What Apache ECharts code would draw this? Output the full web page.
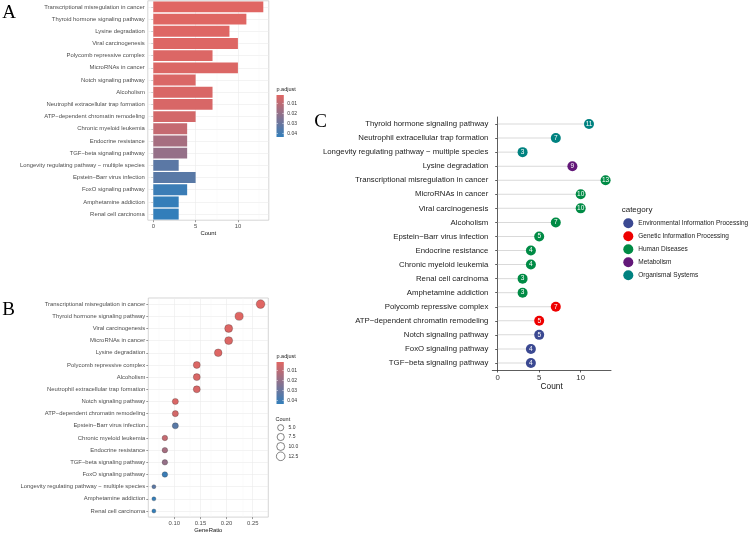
<!DOCTYPE html>
<html>
<head>
<meta charset="utf-8">
<script src="https://cdn.jsdelivr.net/npm/echarts@6/dist/echarts.min.js"></script>
<style>
html,body{margin:0;padding:0;background:#fff}
#main{width:750px;height:534px}
</style>
</head>
<body>
<div id="main"></div>
<script>
// ---- panel A : barplot ----
const termsA = ['Transcriptional misregulation in cancer','Thyroid hormone signaling pathway','Lysine degradation','Viral carcinogenesis',
  'Polycomb repressive complex','MicroRNAs in cancer','Notch signaling pathway','Alcoholism','Neutrophil extracellular trap formation',
  'ATP\u2212dependent chromatin remodeling','Chronic myeloid leukemia','Endocrine resistance','TGF\u2212beta signaling pathway',
  'Longevity regulating pathway \u2212 multiple species','Epstein\u2212Barr virus infection','FoxO signaling pathway','Amphetamine addiction','Renal cell carcinoma']
const countA = [13,11,9,10,7,10,5,7,7,5,4,4,4,3,5,4,3,3]
const padjA = [0.0017,0.0019,0.0021,0.0023,0.0026,0.0028,0.0031,0.0033,0.0035,0.0048,0.0082,0.0155,0.0196,0.0335,0.0340,0.0413,0.0430,0.0434]

// ---- panel B : dotplot ----
const termsB = ['Transcriptional misregulation in cancer','Thyroid hormone signaling pathway','Viral carcinogenesis','MicroRNAs in cancer',
  'Lysine degradation','Polycomb repressive complex','Alcoholism','Neutrophil extracellular trap formation','Notch signaling pathway',
  'ATP\u2212dependent chromatin remodeling','Epstein\u2212Barr virus infection','Chronic myeloid leukemia','Endocrine resistance',
  'TGF\u2212beta signaling pathway','FoxO signaling pathway','Longevity regulating pathway \u2212 multiple species','Amphetamine addiction','Renal cell carcinoma']
const ratioB = [0.265,0.224,0.204,0.204,0.184,0.143,0.143,0.143,0.102,0.102,0.102,0.082,0.082,0.082,0.082,0.061,0.061,0.061]
const countB = [13,11,10,10,9,7,7,7,5,5,5,4,4,4,4,3,3,3]
const padjB = [0.0017,0.0019,0.0023,0.0028,0.0021,0.0026,0.0033,0.0035,0.0031,0.0048,0.0340,0.0082,0.0155,0.0196,0.0413,0.0335,0.0430,0.0434]

// ---- panel C : lollipop by KEGG category ----
const termsC = ['Thyroid hormone signaling pathway','Neutrophil extracellular trap formation','Longevity regulating pathway \u2212 multiple species',
  'Lysine degradation','Transcriptional misregulation in cancer','MicroRNAs in cancer','Viral carcinogenesis','Alcoholism',
  'Epstein\u2212Barr virus infection','Endocrine resistance','Chronic myeloid leukemia','Renal cell carcinoma','Amphetamine addiction',
  'Polycomb repressive complex','ATP\u2212dependent chromatin remodeling','Notch signaling pathway','FoxO signaling pathway','TGF\u2212beta signaling pathway']
const countC = [11,7,3,9,13,10,10,7,5,4,4,3,3,7,5,5,4,4]
const catC = ['Organismal Systems','Organismal Systems','Organismal Systems','Metabolism',
  'Human Diseases','Human Diseases','Human Diseases','Human Diseases','Human Diseases','Human Diseases','Human Diseases','Human Diseases','Human Diseases',
  'Genetic Information Processing','Genetic Information Processing',
  'Environmental Information Processing','Environmental Information Processing','Environmental Information Processing']
const categories = ['Environmental Information Processing','Genetic Information Processing','Human Diseases','Metabolism','Organismal Systems']
const catColors = ['#3B4992','#EE0000','#008B45','#631879','#008280']

// legend ticks
const padjTicks = [0.01,0.02,0.03,0.04]
const sizeTicks = [5.0,7.5,10.0,12.5]

const FONT = "'Liberation Sans', Arial, sans-serif"
const padjColors = ['#e06663','#327eba']
const sizeOf = c => 0.94 * (3 + 5 * Math.sqrt(Math.max(c - 3, 0) / 10)) + 1.2

function gridLines(n, major, minor) {
  const d = []
  for (let i = 0; i < n; i++) d.push({yAxis: i})
  major.forEach(v => d.push({xAxis: v}))
  minor.forEach(v => d.push({xAxis: v, lineStyle: {color: '#f3f3f3', width: 0.4}}))
  return d
}
// panel background grid (drawn under the marks)
function lineBg(gi, n, major, minor) {
  return {
    type: 'line', xAxisIndex: gi, yAxisIndex: gi, data: [], z: 1, silent: true,
    markLine: {silent: true, z: 1, symbol: ['none','none'], label: {show: false}, animation: false,
      lineStyle: {color: '#ebebeb', width: 0.6, type: 'solid'}, data: gridLines(n, major, minor)}
  }
}

const myChart = echarts.init(document.getElementById('main'))

const catSeries = categories.map((cat, k) => ({
  type: 'scatter', name: cat, xAxisIndex: 2, yAxisIndex: 2, z: 5,
  symbolSize: 10,
  itemStyle: {color: catColors[k], opacity: 1},
  label: {show: true, position: 'inside', formatter: p => p.value[0], color: '#fff', fontSize: 6.5, fontFamily: FONT},
  data: termsC.map((t, i) => catC[i] === cat ? [countC[i], i] : null).filter(d => d)
}))

// colour bar + size legend drawn by hand (ggplot style)
const graphics = []
const letters = [['A', 9, 13], ['B', 8.5, 310], ['C', 320.7, 121.7]]
letters.forEach(l => graphics.push({type: 'text', x: l[1], y: l[2],
  style: {text: l[0], font: "19px 'Liberation Serif', 'Times New Roman', serif", fill: '#000', textAlign: 'center', textVerticalAlign: 'middle'}}))

function colorBar(top) {
  graphics.push({type: 'text', x: 276.5, y: top - 6, style: {text: 'p.adjust', font: '5.5px ' + FONT, fill: '#222', textVerticalAlign: 'middle'}})
  graphics.push({type: 'rect', shape: {x: 276.5, y: top, width: 7.3, height: 42},
    style: {fill: new echarts.graphic.LinearGradient(0, 0, 0, 1, [{offset: 0, color: padjColors[0]}, {offset: 1, color: padjColors[1]}])}})
  padjTicks.forEach((p, i) => {
    const y = top + 8.5 + i * 10
    graphics.push({type: 'line', shape: {x1: 276.5, y1: y, x2: 278, y2: y}, style: {stroke: '#fff', lineWidth: 0.5}})
    graphics.push({type: 'line', shape: {x1: 282.3, y1: y, x2: 283.8, y2: y}, style: {stroke: '#fff', lineWidth: 0.5}})
    graphics.push({type: 'text', x: 287.3, y: y, style: {text: p.toFixed(2), font: '5px ' + FONT, fill: '#333', textVerticalAlign: 'middle'}})
  })
}
colorBar(95)
colorBar(362)

graphics.push({type: 'text', x: 275.5, y: 419, style: {text: 'Count', font: '5.5px ' + FONT, fill: '#222', textVerticalAlign: 'middle'}})
sizeTicks.forEach((s, i) => {
  const y = [427.7, 437, 446.5, 456.3][i]
  graphics.push({type: 'circle', shape: {cx: 280.7, cy: y, r: sizeOf(s) / 2}, style: {fill: '#fff', stroke: '#333', lineWidth: 0.6}})
  graphics.push({type: 'text', x: 288.5, y: y, style: {text: s.toFixed(1), font: '5px ' + FONT, fill: '#333', textVerticalAlign: 'middle'}})
})
graphics.push({type: 'text', x: 621.7, y: 210, style: {text: 'category', font: '8px ' + FONT, fill: '#222', textVerticalAlign: 'middle'}})

const smallLabel = {fontSize: 5.9, color: '#4d4d4d', fontFamily: FONT}
const tickSmall = {show: true, length: 2, alignWithLabel: true, lineStyle: {color: '#333', width: 0.5}}

myChart.setOption({
  animation: false,
  textStyle: {fontFamily: FONT},
  grid: [
    {left: 147.8, top: 0.8, width: 121, height: 219.4, show: true, borderColor: '#c4c4c4', borderWidth: 0.7},
    {left: 148.3, top: 298, width: 120, height: 220.3, show: true, borderColor: '#c4c4c4', borderWidth: 0.7},
    {left: 492.3, top: 117, width: 118.7, height: 253}
  ],
  xAxis: [
    {gridIndex: 0, type: 'value', min: -0.65, max: 13.65, axisLine: {show: false}, splitLine: {show: false},
      axisTick: {show: true, length: 2, customValues: [0,5,10], lineStyle: {color: '#333', width: 0.5}},
      axisLabel: Object.assign({customValues: [0,5,10], margin: 3.5}, smallLabel),
      name: 'Count', nameLocation: 'middle', nameGap: 9.5, nameTextStyle: {fontSize: 5.9, color: '#111'}},
    {gridIndex: 1, type: 'value', min: 0.0503, max: 0.2798, axisLine: {show: false}, splitLine: {show: false},
      axisTick: {show: true, length: 2, customValues: [0.10,0.15,0.20,0.25], lineStyle: {color: '#333', width: 0.5}},
      axisLabel: Object.assign({customValues: [0.10,0.15,0.20,0.25], margin: 3, formatter: v => v.toFixed(2)}, smallLabel),
      name: 'GeneRatio', nameLocation: 'middle', nameGap: 8.5, nameTextStyle: {fontSize: 5.9, color: '#111'}},
    {gridIndex: 2, type: 'value', min: -0.65, max: 13.65, splitLine: {show: false},
      axisLine: {show: true, lineStyle: {color: '#333', width: 0.8}},
      axisTick: {show: true, length: 2.5, customValues: [0,5,10], lineStyle: {color: '#333', width: 0.8}},
      axisLabel: {customValues: [0,5,10], margin: 4, fontSize: 7.8, color: '#333'},
      name: 'Count', nameLocation: 'middle', nameGap: 13, nameTextStyle: {fontSize: 8.3, color: '#111'}}
  ],
  yAxis: [
    {gridIndex: 0, type: 'category', data: termsA, inverse: true, axisLine: {show: false}, splitLine: {show: false},
      axisTick: tickSmall, axisLabel: Object.assign({margin: 3, interval: 0}, smallLabel)},
    {gridIndex: 1, type: 'category', data: termsB, inverse: true, axisLine: {show: false}, splitLine: {show: false},
      axisTick: tickSmall, axisLabel: Object.assign({margin: 3, interval: 0}, smallLabel)},
    {gridIndex: 2, type: 'category', data: termsC, inverse: true, splitLine: {show: false},
      axisLine: {show: true, lineStyle: {color: '#333', width: 0.8}},
      axisTick: {show: true, length: 2.5, alignWithLabel: true, lineStyle: {color: '#333', width: 0.8}},
      axisLabel: {margin: 4, interval: 0, fontSize: 7.8, color: '#222'}}
  ],
  visualMap: [{type: 'continuous', show: false, min: 0.0017, max: 0.0434, dimension: 2, seriesIndex: [1, 3],
    inRange: {color: padjColors}}],
  legend: {data: categories, orient: 'vertical', left: 623.3, top: 218.3, padding: 0, itemWidth: 10, itemHeight: 10, itemGap: 3,
    icon: 'circle', selectedMode: false, textStyle: {fontSize: 6.5, color: '#222', fontFamily: FONT}},
  series: [
    lineBg(0, termsA.length, [0,5,10], [2.5,7.5,12.5]),
    {type: 'bar', xAxisIndex: 0, yAxisIndex: 0, z: 3, barWidth: 10.9,
      encode: {x: 0, y: 1},
      data: countA.map((c, i) => [c, i, padjA[i]])},
    lineBg(1, termsB.length, [0.10,0.15,0.20,0.25], [0.075,0.125,0.175,0.225,0.275]),
    {type: 'scatter', xAxisIndex: 1, yAxisIndex: 1, z: 3,
      encode: {x: 0, y: 1},
      symbolSize: v => sizeOf(v[3]),
      itemStyle: {opacity: 1, borderColor: 'rgba(40,40,40,0.55)', borderWidth: 0.5},
      data: ratioB.map((r, i) => [r, i, padjB[i], countB[i]])},
    {type: 'bar', xAxisIndex: 2, yAxisIndex: 2, z: 2, barWidth: 0.8, silent: true,
      itemStyle: {color: '#d9d9d9'}, data: countC}
  ].concat(catSeries),
  graphic: graphics
})
</script>
</body>
</html>
